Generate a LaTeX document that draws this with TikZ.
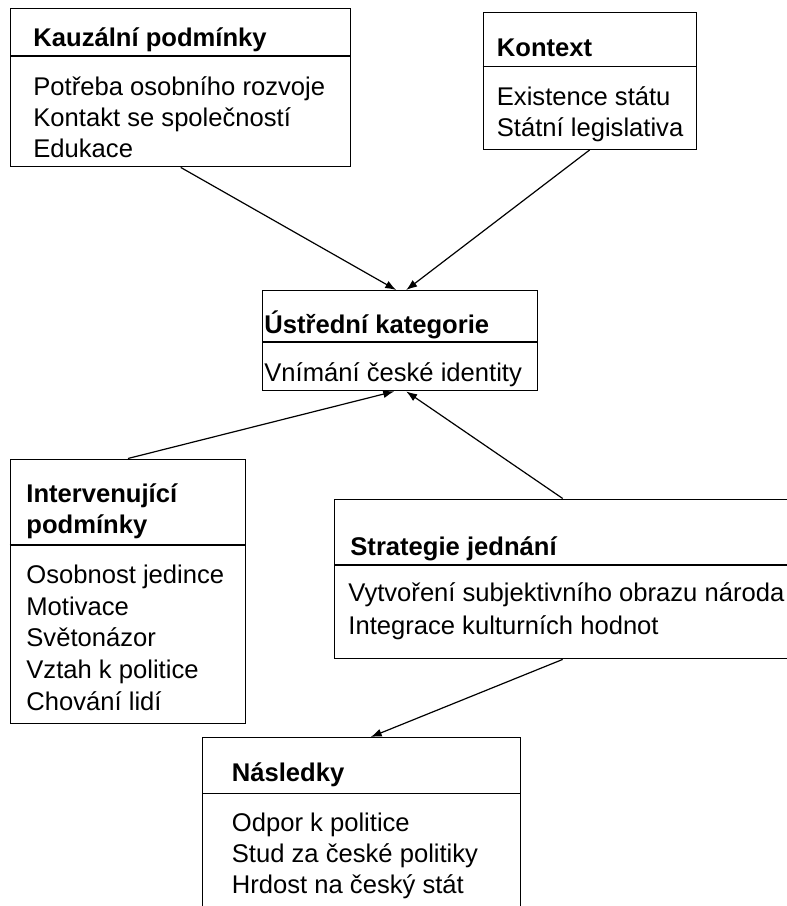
\documentclass[tikz,border=0pt]{standalone}
\usepackage{fontspec}
\setmainfont{Liberation Sans}
\usetikzlibrary{arrows.meta}

\begin{document}
\begin{tikzpicture}[x=0.5pt,y=0.5pt,yscale=-1,xscale=1,
  box/.style={draw,line width=0.7pt,rectangle,inner sep=0pt,anchor=north west},
  head/.style={anchor=base west,inner sep=0pt,font=\fontsize{12.8}{15}\selectfont\bfseries},
  item/.style={anchor=base west,inner sep=0pt,font=\fontsize{12.8}{15.8}\selectfont},
  sep/.style={line width=0.7pt},
  link/.style={line width=0.6pt,-{Latex[length=5.5pt,width=4pt]}}]
\useasboundingbox (0,0) rectangle (787,906);

%Shape: Rectangle
\node[box,minimum width=170pt,minimum height=79.25pt] (kauz) at (10,7.5) {};
\draw[sep] (kauz.west |- 0,56) -- (kauz.east |- 0,56);
%Shape: Rectangle
\node[box,minimum width=106.5pt,minimum height=68.5pt] (kont) at (482.5,11.5) {};
\draw[sep] (kont.west |- 0,66.5) -- (kont.east |- 0,66.5);
%Shape: Rectangle
\node[box,minimum width=137.5pt,minimum height=50pt] (ustr) at (262,290) {};
\draw[sep] (ustr.west |- 0,342) -- (ustr.east |- 0,342);
%Shape: Rectangle
\node[box,minimum width=117.75pt,minimum height=132.25pt] (interv) at (9.5,458.5) {};
\draw[sep] (interv.west |- 0,545) -- (interv.east |- 0,545);
%Shape: Rectangle
\node[box,minimum width=228pt,minimum height=79.75pt] (strat) at (334,498.5) {};
\draw[sep] (strat.west |- 0,565) -- (strat.east |- 0,565);
%Shape: Rectangle
\node[box,minimum width=159pt,minimum height=96.5pt] (nasl) at (202,737) {};
\draw[sep] (nasl.west |- 0,793.5) -- (nasl.east |- 0,793.5);

% Text Node
\node[head] (kauzT) at (33,46.5) {Kauzální podmínky};
\foreach \t [count=\i] in {Potřeba osobního rozvoje,Kontakt se společností,Edukace}
  \node[item] (kauzB\i) at (33,95+31*\i-31) {\t};
% Text Node
\node[head] (kontT) at (496.5,56.5) {Kontext};
\foreach \t [count=\i] in {Existence státu,Státní legislativa}
  \node[item] (kontB\i) at (496.5,105+31.7*\i-31.7) {\t};
% Text Node
\node[head] (ustrT) at (264,333) {Ústřední kategorie};
\node[item] (ustrB) at (264,381.5) {Vnímání české identity};
% Text Node
\foreach \t [count=\i] in {Intervenující,podmínky}
  \node[head] (intervT\i) at (26,502.7+30.6*\i-30.6) {\t};
\foreach \t [count=\i] in {Osobnost jedince,Motivace,Světonázor,Vztah k politice,Chování lidí}
  \node[item] (intervB\i) at (26,583.5+31.7*\i-31.7) {\t};
% Text Node
\node[head] (stratT) at (350,555) {Strategie jednání};
\foreach \t [count=\i] in {Vytvoření subjektivního obrazu národa,Integrace kulturních hodnot}
  \node[item] (stratB\i) at (348,601.5+33*\i-33) {\t};
% Text Node
\node[head] (naslT) at (231.5,781.5) {Následky};
\foreach \t [count=\i] in {Odpor k politice,Stud za české politiky,Hrdost na český stát}
  \node[item] (naslB\i) at (231.5,831.5+30.9*\i-30.9) {\t};

%Straight Lines
\draw[link] (kauz.south) -- ([xshift=-2pt]ustr.north);
\draw[link] (kont.south) -- ([xshift=3pt]ustr.north);
\draw[link] (interv.north) -- ([xshift=-3pt]ustr.south);
\draw[link] (strat.north) -- ([xshift=3pt]ustr.south);
\draw[link] (strat.south) -- ([xshift=4.5pt]nasl.north);

\end{tikzpicture}
\end{document}
